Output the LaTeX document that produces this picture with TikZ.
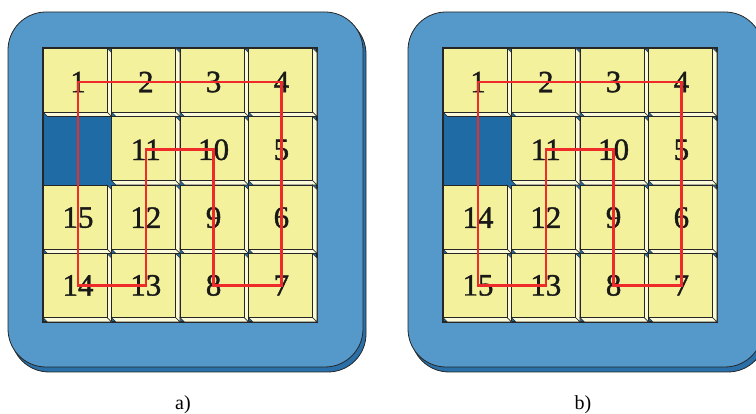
\documentclass[tikz,border=0pt]{standalone}
\usepackage{fontspec}
\setmainfont{Liberation Serif}
\newfontfamily\numfont[FakeBold=1.2]{Liberation Serif}
\definecolor{frameblue}{HTML}{5599CB}
\definecolor{shadowblue}{HTML}{2A6FA8}
\definecolor{holeblue}{HTML}{1F6BA5}
\definecolor{tileyellow}{HTML}{F3F19B}
\definecolor{bevelcol}{HTML}{FBFAD9}
\definecolor{pathred}{HTML}{EE2A2A}
\tikzset{
 frame/.style={fill=frameblue, draw=black!85, line width=0.8pt, rounded corners=38pt},
 frameshadow/.style={fill=shadowblue, draw=black!85, line width=0.8pt, rounded corners=38pt},
 board/.style={fill=holeblue, draw=black!85, line width=1.6pt},
 tileface/.style={fill=tileyellow, draw=black!85, line width=0.9pt},
 tilebevel/.style={fill=bevelcol, draw=black!85, line width=0.6pt},
 num/.style={font=\numfont\fontsize{31}{31}\selectfont, inner sep=0pt, text=black!90},
 route/.style={draw=pathred, line width=2.6pt},
 caption/.style={font=\fontsize{20}{20}\selectfont, inner sep=0pt}
}
\begin{document}
\begin{tikzpicture}[x=1pt,y=-1pt]
\useasboundingbox (0,0) rectangle (756,414);
\clip (0,0) rectangle (756,414);
\foreach \dx in {0,400} {
 \begin{scope}[xshift=\dx pt]
  \path[frameshadow] (11,16) rectangle (366,372);
  \path[frame] (8,12) rectangle (363,367);
  \path[board] (43,48) rectangle (317,322);
  \foreach \c/\r [evaluate=\c as \xa using 43+\c*68.5, evaluate=\r as \ya using 48+\r*68.5] in
   {0/0,1/0,2/0,3/0,1/1,2/1,3/1,0/2,1/2,2/2,3/2,0/3,1/3,2/3,3/3} {
    \path[tilebevel] (\xa+64,\ya) -- (\xa+68.5,\ya+4.5) -- (\xa+68.5,\ya+68.5) -- (\xa+64,\ya+64) -- cycle;
    \path[tilebevel] (\xa,\ya+64) -- (\xa+64,\ya+64) -- (\xa+68.5,\ya+68.5) -- (\xa+4.5,\ya+68.5) -- cycle;
    \path[tileface] (\xa,\ya) rectangle (\xa+64,\ya+64);
  }
 \end{scope}
}
% panel a numbers
\foreach \c/\r/\n in {0/0/1,1/0/2,2/0/3,3/0/4,1/1/11,2/1/10,3/1/5,0/2/15,1/2/12,2/2/9,3/2/6,0/3/14,1/3/13,2/3/8,3/3/7}
  \node[num] (a\n) at ({78+\c*67.8},{82+\r*67.8}) {\n};
% panel b numbers
\foreach \c/\r/\n in {0/0/1,1/0/2,2/0/3,3/0/4,1/1/11,2/1/10,3/1/5,0/2/14,1/2/12,2/2/9,3/2/6,0/3/15,1/3/13,2/3/8,3/3/7}
  \node[num] (b\n) at ({478+\c*67.8},{82+\r*67.8}) {\n};
\draw[route] (a1.center) -- (a4.center) -- (a7.center) -- (a8.center) -- (a10.center) -- (a11.center) -- (a13.center) -- (a14.center) -- cycle;
\draw[route] (b1.center) -- (b4.center) -- (b7.center) -- (b8.center) -- (b10.center) -- (b11.center) -- (b13.center) -- (b15.center) -- cycle;
\node[caption] (capa) at (183,405) {a)};
\node[caption] (capb) at (583,405) {b)};
\end{tikzpicture}
\end{document}
